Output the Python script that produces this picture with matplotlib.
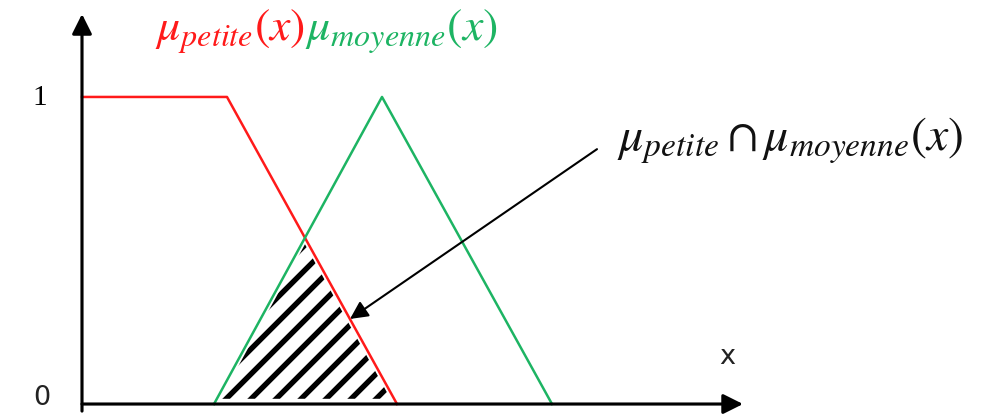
import numpy as np
import matplotlib
matplotlib.use("Agg")
import matplotlib.pyplot as plt

plt.rcParams['mathtext.fontset'] = 'stix'
plt.rcParams['hatch.linewidth'] = 2.6

# membership functions (breakpoints on an arbitrary x scale)
petite_x = [0.0, 2.9, 6.3]
petite_y = [1.0, 1.0, 0.0]
moyenne_x = [2.64, 6.0, 9.4]
moyenne_y = [0.0, 1.0, 0.0]

RED = '#FF1A1A'
GREEN = '#1DB463'

DPI = 150
fig = plt.figure(figsize=(981 / DPI, 417 / DPI), dpi=DPI)
ax = fig.add_axes([0, 0, 1, 1])
ax.set_xlim(-1.64, 17.98)
ax.set_ylim(-0.039, 1.319)
ax.axis('off')

# intersection = min of the two memberships
xs = np.linspace(petite_x[0], moyenne_x[-1], 2000)
mu_p = np.interp(xs, petite_x, petite_y)
mu_m = np.interp(xs, moyenne_x, moyenne_y, left=0, right=0)
inter = np.minimum(mu_p, mu_m)
ax.fill_between(xs, 0, inter, where=inter > 0, facecolor='none',
                edgecolor='black', hatch='//', linewidth=0)
# small white margin around the hatched zone
ax.plot(xs[inter > 0], inter[inter > 0], color='white', lw=3, solid_capstyle='butt')
ax.plot([2.64, 6.3], [0, 0], color='white', lw=5)

ax.plot(petite_x, petite_y, color=RED, lw=1.2)
ax.plot(moyenne_x, moyenne_y, color=GREEN, lw=1.2)

# axes with arrows
ax.annotate('', xy=(0, 1.27), xytext=(0, -0.023),
            arrowprops=dict(arrowstyle='-|>', color='black', lw=1.5,
                            mutation_scale=20, shrinkA=0, shrinkB=0))
ax.annotate('', xy=(13.22, 0), xytext=(0, 0),
            arrowprops=dict(arrowstyle='-|>', color='black', lw=1.5,
                            mutation_scale=20, shrinkA=0, shrinkB=0))

ax.text(-0.84, 1.0, '1', fontsize=14, family='Liberation Serif',
        ha='center', va='center')
ax.text(-0.8, 0.023, '0', fontsize=13, family='DejaVu Sans',
        ha='center', va='center', color='#222222')
ax.text(12.9, 0.156, 'x', fontsize=13, family='DejaVu Sans',
        ha='center', va='center', color='#222222')

# titles
t1 = ax.text(1.46, 1.215, r'$\mu_{petite}(x)$', fontsize=22, color=RED,
             ha='left', va='center')
ax.annotate(r'$\mu_{moyenne}(x)$', xy=(1, 0), xycoords=t1, fontsize=22,
            color=GREEN, ha='left', va='bottom')

# intersection label + arrow
ax.annotate('', xy=(5.36, 0.277), xytext=(10.3, 0.83),
            arrowprops=dict(arrowstyle='-|>', color='black', lw=1.0,
                            mutation_scale=18, shrinkA=0, shrinkB=0))
ax.text(10.7, 0.86, r'$\mu_{petite} \cap \mu_{moyenne}(x)$', fontsize=23,
        ha='left', va='center', color='#111111')

fig.savefig('out.png', dpi=DPI)
